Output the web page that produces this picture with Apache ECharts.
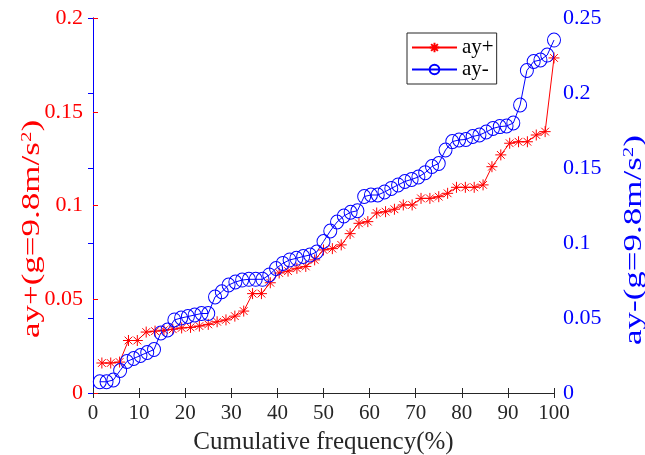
<!DOCTYPE html>
<html>
<head>
<meta charset="utf-8">
<script src="https://cdn.jsdelivr.net/npm/echarts@6/dist/echarts.min.js"></script>
<style>
  html, body { margin: 0; padding: 0; background: #fff; }
  #chart { width: 645px; height: 455px; }
</style>
</head>
<body>
<div id="chart"></div>
<script>
// ay+ sorted values (left axis)
const ayPlus = [0.016, 0.016, 0.0165, 0.028, 0.028, 0.0325, 0.033, 0.0335, 0.034, 0.0347,
  0.035, 0.0357, 0.0366, 0.038, 0.039, 0.041, 0.0437, 0.053, 0.053, 0.0588,
  0.064, 0.065, 0.0665, 0.0675, 0.071, 0.0763, 0.077, 0.079, 0.085, 0.0905,
  0.0914, 0.096, 0.0967, 0.098, 0.1003, 0.1003, 0.1038, 0.1038, 0.1047, 0.1065,
  0.1097, 0.1097, 0.1097, 0.111, 0.1207, 0.127, 0.1332, 0.134, 0.134, 0.1376,
  0.1394, 0.1787]
// ay- sorted values (right axis)
const ayMinus = [0.0075, 0.0075, 0.0087, 0.015, 0.021, 0.023, 0.025, 0.027, 0.029, 0.040,
  0.042, 0.0487, 0.050, 0.051, 0.052, 0.053, 0.053, 0.064, 0.0675, 0.072,
  0.074, 0.0753, 0.0758, 0.0758, 0.0758, 0.0787, 0.083, 0.0864, 0.0887, 0.0898,
  0.091, 0.092, 0.094, 0.101, 0.108, 0.114, 0.118, 0.1205, 0.1215, 0.131,
  0.132, 0.132, 0.134, 0.1364, 0.1387, 0.141, 0.1424, 0.144, 0.1469, 0.151,
  0.153, 0.162, 0.1676, 0.1687, 0.169, 0.171, 0.172, 0.174, 0.1764, 0.1776,
  0.178, 0.18, 0.192, 0.215, 0.221, 0.222, 0.2253, 0.2353]

const xTicks = [0, 10, 20, 30, 40, 50, 60, 70, 80, 90, 100]
const leftTicks = [0, 0.05, 0.1, 0.15, 0.2]
const rightTicks = [0, 0.05, 0.1, 0.15, 0.2, 0.25]

const F = '"Liberation Serif", "Times New Roman", serif'
const RED = '#ff0000'
const BLUE = '#0000ff'
const AXC = '#262626'
const asterisk = 'path://M0,-1L0,1M-1,0L1,0M-0.7,-0.7L0.7,0.7M-0.7,0.7L0.7,-0.7'

// cumulative frequency (%) of each sorted sample
function cumFreq(arr) {
  return arr.map((v, i) => [(i + 1) * 100 / arr.length, v])
}

// rotated y-axis titles (stretched along the text like in the picture)
function yTitle(text, x, y, color) {
  return {
    type: 'text',
    x: x,
    y: y,
    rotation: Math.PI / 2,
    scaleX: 1.4,
    style: {
      text: text,
      fill: color,
      font: '25px ' + F,
      align: 'center',
      verticalAlign: 'middle',
      rich: { sup: { fontSize: 15, fontFamily: F, fill: color, verticalAlign: 'top' } }
    }
  }
}

const chart = echarts.init(document.getElementById('chart'))
chart.setOption({
  backgroundColor: '#fff',
  animation: false,
  grid: { left: 93, right: 91, top: 18, bottom: 62, outerBoundsMode: 'none', containLabel: false },
  legend: {
    left: 407,
    top: 33,
    orient: 'vertical',
    itemWidth: 45,
    itemHeight: 12,
    itemGap: 1,
    padding: [4, 3, 4, 4],
    borderColor: AXC,
    borderWidth: 1,
    textStyle: { fontSize: 21, fontFamily: F, color: '#000' },
    data: ['ay+', 'ay-']
  },
  graphic: [
    yTitle('ay+(g=9.8m/s{sup|2})', 32, 229, RED),
    yTitle('ay-(g=9.8m/s{sup|2})', 634, 240, BLUE)
  ],
  xAxis: [{
    type: 'value',
    position: 'bottom',
    min: xTicks[0],
    max: xTicks[xTicks.length - 1],
    interval: 10,
    name: 'Cumulative frequency(%)',
    nameLocation: 'middle',
    nameGap: 37,
    nameTextStyle: { fontSize: 25, fontFamily: F, color: '#262626' },
    axisLine: { lineStyle: { color: AXC, width: 1 } },
    axisTick: { inside: true, length: 5, lineStyle: { color: AXC } },
    axisLabel: { fontSize: 21, fontFamily: F, color: '#262626', margin: 10 },
    splitLine: { show: false }
  }, {
    type: 'value',
    position: 'top',
    min: xTicks[0],
    max: xTicks[xTicks.length - 1],
    interval: 10,
    axisLine: { lineStyle: { color: AXC, width: 1 } },
    axisTick: { inside: true, length: 5, lineStyle: { color: AXC } },
    axisLabel: { show: false },
    splitLine: { show: false }
  }],
  yAxis: [{
    type: 'value',
    position: 'left',
    min: leftTicks[0],
    max: leftTicks[leftTicks.length - 1],
    interval: 0.05,
    axisLine: { show: true, lineStyle: { color: RED, width: 1 } },
    axisTick: { show: true, inside: true, length: 5, lineStyle: { color: RED } },
    axisLabel: { fontSize: 22, fontFamily: F, color: RED, margin: 10 },
    splitLine: { show: false }
  }, {
    type: 'value',
    position: 'right',
    min: rightTicks[0],
    max: rightTicks[rightTicks.length - 1],
    interval: 0.05,
    axisLine: { show: true, lineStyle: { color: BLUE, width: 1 } },
    axisTick: { show: true, inside: true, length: 5, lineStyle: { color: BLUE } },
    axisLabel: { fontSize: 22, fontFamily: F, color: BLUE, margin: 9 },
    splitLine: { show: false }
  }],
  series: [{
    name: 'ay+',
    type: 'line',
    xAxisIndex: 0,
    yAxisIndex: 0,
    data: cumFreq(ayPlus),
    symbol: asterisk,
    symbolSize: 11,
    lineStyle: { color: RED, width: 1 },
    itemStyle: { color: RED, borderColor: RED, borderWidth: 1 }
  }, {
    name: 'ay-',
    type: 'line',
    xAxisIndex: 0,
    yAxisIndex: 1,
    data: cumFreq(ayMinus),
    symbol: 'circle',
    symbolSize: [13, 14],
    lineStyle: { color: BLUE, width: 1 },
    itemStyle: { color: 'rgba(0,0,0,0)', borderColor: BLUE, borderWidth: 1 }
  }]
})
</script>
</body>
</html>
